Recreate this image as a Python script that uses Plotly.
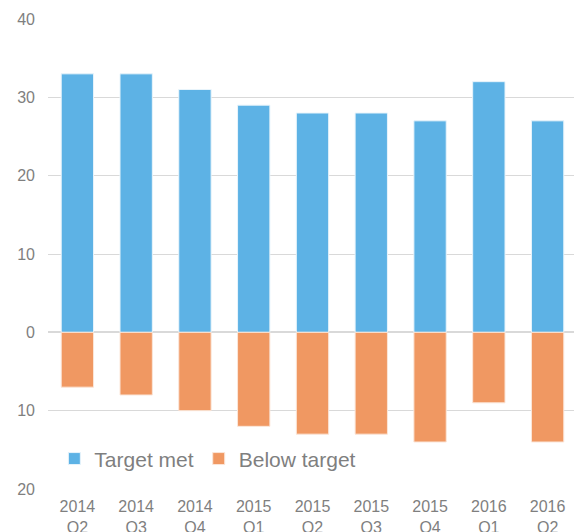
import plotly.graph_objects as go

categories = ["2014<br>Q2", "2014<br>Q3", "2014<br>Q4", "2015<br>Q1", "2015<br>Q2",
              "2015<br>Q3", "2015<br>Q4", "2016<br>Q1", "2016<br>Q2"]
target_met = [33, 33, 31, 29, 28, 28, 27, 32, 27]
below_target = [7, 8, 10, 12, 13, 13, 14, 9, 14]
tick_vals = [-20, -10, 0, 10, 20, 30, 40]
tick_text = ["20", "10", "0", "10", "20", "30", "40"]

fig = go.Figure()
fig.add_trace(go.Bar(x=categories, y=target_met, name="Target met",
                     marker=dict(color="#5DB2E5", line=dict(color="#E8F4FB", width=1))))
fig.add_trace(go.Bar(x=categories, y=[-v for v in below_target], name="Below target",
                     marker=dict(color="#F09862", line=dict(color="#FBE6D9", width=1))))

# page body has an 8px default margin, so the figure is sized to fit the window
fig.update_layout(
    barmode="relative",
    bargap=0.45,
    width=574, height=524,
    margin=dict(l=40, r=5, t=11, b=43),
    plot_bgcolor="white", paper_bgcolor="white",
    font=dict(family="Liberation Sans, Arial, sans-serif", color="#7F7F7F", size=16),
    legend=dict(orientation="h", x=0.012, y=0.064, xanchor="left", yanchor="middle",
                font=dict(size=21, color="#7F7F7F"), bgcolor="rgba(0,0,0,0)",
                itemwidth=30, tracegroupgap=0),
    showlegend=True,
)
fig.update_yaxes(range=[-20, 40], tickvals=tick_vals, ticktext=tick_text,
                 showgrid=True, gridcolor="#D9D9D9", gridwidth=1,
                 zeroline=True, zerolinecolor="#D9D9D9", zerolinewidth=1.5,
                 layer="above traces",
                 ticklabelstandoff=12, showline=False, automargin=False,
                 tickfont=dict(size=16))
fig.update_xaxes(showgrid=False, showline=False, ticks="", tickfont=dict(size=16),
                 ticklabelstandoff=6, automargin=False)

fig.write_html("out.html")
